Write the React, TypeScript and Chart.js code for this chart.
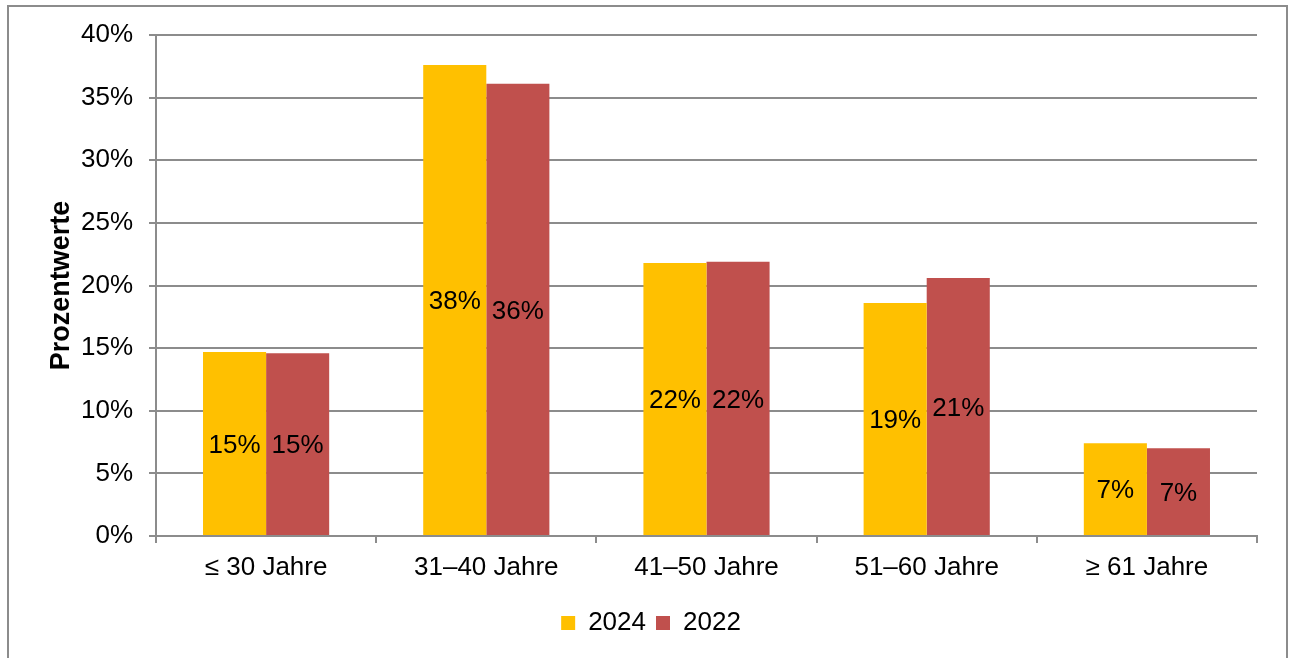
import React, { useEffect, useRef } from "react";
import { Chart, registerables } from "chart.js";

Chart.register(...registerables);

const categories = ["≤ 30 Jahre", "31–40 Jahre", "41–50 Jahre", "51–60 Jahre", "≥ 61 Jahre"];
const series2024 = [14.7, 37.6, 21.8, 18.6, 7.4];
const series2022 = [14.6, 36.1, 21.9, 20.6, 7.0];
const seriesLabels = ["2024", "2022"];
const seriesColors = ["#FFC000", "#C0504D"];
const yMin = 0;
const yMax = 40;
const yStep = 5;
const yTitle = "Prozentwerte";

const FONT = "'Liberation Sans', Arial, sans-serif";
const GRID = "#8c8c8c";
const FS = 26;

const barLabels = {
  id: "barLabels",
  afterDatasetsDraw(chart: any) {
    const ctx = chart.ctx;
    ctx.save();
    ctx.font = `${FS}px ${FONT}`;
    ctx.fillStyle = "#000";
    ctx.textAlign = "center";
    ctx.textBaseline = "middle";
    chart.data.datasets.forEach((ds: any, i: number) => {
      const meta = chart.getDatasetMeta(i);
      meta.data.forEach((el: any, j: number) => {
        const v = ds.data[j];
        const y = (el.y + el.base) / 2 + 2;
        ctx.fillText(Math.round(v) + "%", el.x, y);
      });
    });
    ctx.restore();
  },
};

export default function App() {
  const ref = useRef<HTMLCanvasElement>(null);
  useEffect(() => {
    if (!ref.current) return;
    const chart = new Chart(ref.current, {
      type: "bar",
      data: {
        labels: categories,
        datasets: [
          { label: seriesLabels[0], data: series2024, backgroundColor: seriesColors[0], borderWidth: 0 },
          { label: seriesLabels[1], data: series2022, backgroundColor: seriesColors[1], borderWidth: 0 },
        ],
      },
      options: {
        animation: false,
        responsive: false,
        maintainAspectRatio: false,
        devicePixelRatio: 1,
        layout: { padding: { left: 45, right: 33, top: 35, bottom: 12 } },
        datasets: { bar: { categoryPercentage: 0.573, barPercentage: 1.0 } },
        plugins: {
          tooltip: { enabled: false },
          legend: {
            position: "bottom",
            labels: {
              font: { family: FONT, size: FS },
              color: "#000",
              boxWidth: 14,
              boxHeight: 14,
              padding: 10,
            },
          },
        },
        scales: {
          x: {
            afterFit: (s: any) => {
              s.height = 64;
            },
            grid: {
              offset: true,
              drawOnChartArea: false,
              drawTicks: true,
              tickLength: 7,
              color: GRID,
              lineWidth: 2,
            },
            border: { color: GRID, width: 2 },
            ticks: { font: { family: FONT, size: FS }, color: "#000", padding: 9 },
          },
          y: {
            min: yMin,
            max: yMax,
            afterFit: (s: any) => {
              s.width = 111;
            },
            ticks: {
              stepSize: yStep,
              font: { family: FONT, size: FS },
              color: "#000",
              padding: 16,
              callback: (v: any) => v + "%",
            },
            grid: { color: GRID, lineWidth: 2, tickLength: 7, drawTicks: true },
            border: { color: GRID, width: 2 },
            title: {
              display: true,
              text: yTitle,
              font: { family: FONT, size: 27, weight: "bold" },
              color: "#000",
              padding: 0,
            },
          },
        },
      },
      plugins: [barLabels],
    });
    return () => chart.destroy();
  }, []);
  return (
    <div style={{ position: "fixed", left: 0, top: 0, width: 1290, height: 658, background: "#fff" }}>
      <canvas ref={ref} width={1290} height={658} style={{ position: "absolute", left: 0, top: 0 }} />
      <div
        style={{
          position: "absolute",
          left: 7,
          top: 5,
          width: 1281,
          height: 670,
          border: "2px solid #8c8c8c",
          boxSizing: "border-box",
          pointerEvents: "none",
        }}
      />
    </div>
  );
}
